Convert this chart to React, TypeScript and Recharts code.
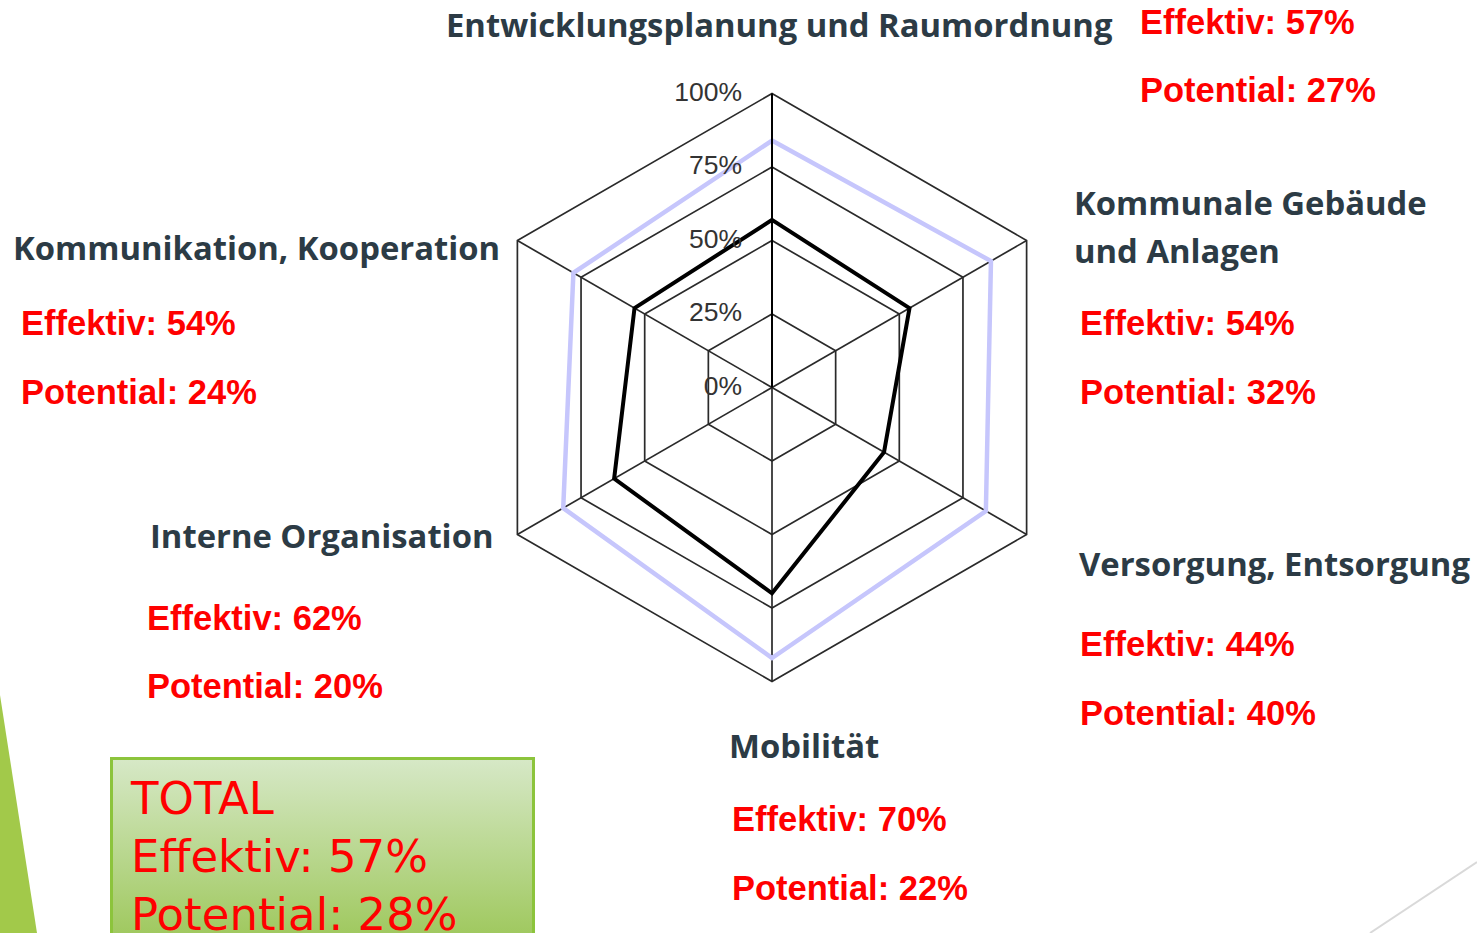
import React from 'react';
import { RadarChart, Radar, PolarGrid, PolarAngleAxis, PolarRadiusAxis } from 'recharts';

const categories = [
  'Entwicklungsplanung und Raumordnung',
  'Kommunale Gebäude und Anlagen',
  'Versorgung, Entsorgung',
  'Mobilität',
  'Interne Organisation',
  'Kommunikation, Kooperation',
];
const categoryLines: string[][] = [
  ['Entwicklungsplanung und Raumordnung'],
  ['Kommunale Gebäude', 'und Anlagen'],
  ['Versorgung, Entsorgung'],
  ['Mobilität'],
  ['Interne Organisation'],
  ['Kommunikation, Kooperation'],
];
const effektiv = [57, 54, 44, 70, 62, 54];
const potential = [27, 32, 40, 22, 20, 24];
const zielLinie = [84, 86, 84, 92, 82, 78];
const radiusTicks = [0, 25, 50, 75, 100];
const totalEffektiv = 57;
const totalPotential = 28;

const data = categories.map((c, i) => ({
  name: c,
  effektiv: effektiv[i],
  ziel: zielLinie[i],
}));

// label block layout (text positions)
const labelLayout = [
  { tx: 446, ty: [24], rx: 1140, ry: [22, 90] },
  { tx: 1074, ty: [202, 250], rx: 1080, ry: [323, 392] },
  { tx: 1079, ty: [563], rx: 1080, ry: [644, 713] },
  { tx: 729, ty: [745], rx: 732, ry: [819, 888] },
  { tx: 150, ty: [535], rx: 147, ry: [618, 686] },
  { tx: 13, ty: [247], rx: 21, ry: [323, 392] },
];

const CX = 772;
const CY = 387.5;
const R = 294;

const titleFont = { fontFamily: "'Open Sans', sans-serif", fontWeight: 700, fontSize: 32.8, fill: '#2c3b45' };
const redFont = { fontFamily: "'Liberation Sans', Arial, sans-serif", fontWeight: 700, fontSize: 34.5, fill: '#ff0000' };

const AngleTick = (props: any) => {
  const idx = props.index ?? props.payload?.index ?? 0;
  const L = labelLayout[idx];
  if (!L) return null;
  return (
    <g>
      {categoryLines[idx].map((line, k) => (
        <text key={'t' + k} x={L.tx} y={L.ty[k]} dominantBaseline="central" style={titleFont as any}>
          {line}
        </text>
      ))}
      <text x={L.rx} y={L.ry[0]} dominantBaseline="central" style={redFont as any}>
        {`Effektiv: ${effektiv[idx]}%`}
      </text>
      <text x={L.rx} y={L.ry[1]} dominantBaseline="central" style={redFont as any}>
        {`Potential: ${potential[idx]}%`}
      </text>
    </g>
  );
};

const RadiusTick = (props: any) => {
  const { x, y, payload } = props;
  return (
    <text
      x={x - 30}
      y={y - 2}
      textAnchor="end"
      dominantBaseline="central"
      style={{ fontFamily: "'Liberation Sans', Arial, sans-serif", fontSize: 26.5, fill: '#333' }}
    >
      {`${payload.value}%`}
    </text>
  );
};

export default function App() {
  return (
    <div style={{ position: 'absolute', left: 0, top: 0, width: 1477, height: 933, overflow: 'hidden', background: '#fff' }}>
      <svg width={1477} height={933} style={{ position: 'absolute', left: 0, top: 0 }}>
        <polygon points="0,695 37,933 0,933" fill="#a2c94a" />
        <line x1={1370} y1={933} x2={1477} y2={862} stroke="#d9d9d9" strokeWidth={2} />
      </svg>
      <div style={{ position: 'absolute', left: 0, top: 0 }}>
        <RadarChart width={1477} height={933} data={data} cx={CX} cy={CY} outerRadius={R} margin={{ top: 0, right: 0, bottom: 0, left: 0 }}>
          <PolarGrid gridType="polygon" stroke="#2a2a2a" strokeWidth={1.7} strokeOpacity={1} />
          <PolarAngleAxis dataKey="name" tick={<AngleTick />} tickLine={false} axisLine={false} />
          <PolarRadiusAxis
            angle={90}
            domain={[0, 100]}
            ticks={radiusTicks as any}
            tickCount={5}
            tick={<RadiusTick />}
            tickLine={false}
            axisLine={{ stroke: '#000', strokeWidth: 2 }}
          />
          <Radar dataKey="ziel" stroke="#c6c6fc" strokeWidth={4.5} fill="none" fillOpacity={0} isAnimationActive={false} dot={false} />
          <Radar dataKey="effektiv" stroke="#000" strokeWidth={4} fill="none" fillOpacity={0} isAnimationActive={false} dot={false} />
        </RadarChart>
      </div>
      <div
        style={{
          position: 'absolute',
          left: 110,
          top: 757,
          width: 425,
          height: 190,
          border: '3px solid #8cc43c',
          background: 'linear-gradient(#d6e8c6, #9dc75a)',
          boxSizing: 'border-box',
        }}
      >
        <div
          style={{
            position: 'absolute',
            left: 18,
            top: 10,
            fontFamily: "'DejaVu Sans', sans-serif",
            fontSize: 45,
            lineHeight: '58px',
            color: '#ff0000',
            whiteSpace: 'nowrap',
          }}
        >
          <div>TOTAL</div>
          <div>{`Effektiv: ${totalEffektiv}%`}</div>
          <div>{`Potential: ${totalPotential}%`}</div>
        </div>
      </div>
    </div>
  );
}
